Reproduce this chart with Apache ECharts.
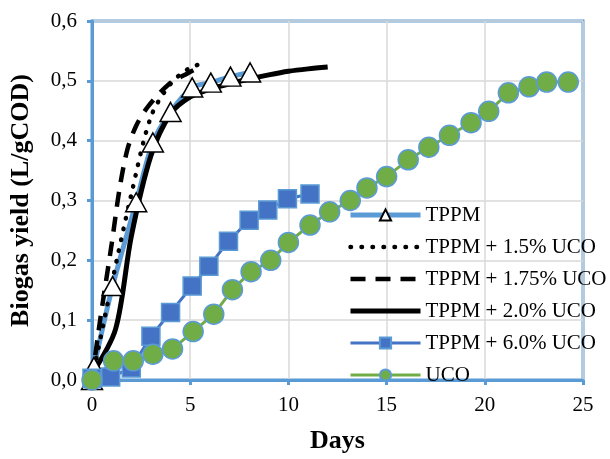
<!DOCTYPE html>
<html>
<head>
<meta charset="utf-8">
<script src="https://cdn.jsdelivr.net/npm/echarts@6/dist/echarts.min.js"></script>
<style>
  html, body { margin: 0; padding: 0; background: #fff; }
  #chart { width: 610px; height: 459px; }
</style>
</head>
<body>
<div id="chart"></div>
<script>
// series names (legend order)
const seriesNames = ['TPPM', 'TPPM + 1.5% UCO', 'TPPM + 1.75% UCO', 'TPPM + 2.0% UCO', 'TPPM + 6.0% UCO', 'UCO']

// TPPM
const tppmDays = [0, 0.1, 1.05, 2.25, 3.1, 4.0, 5.1, 6.05, 7.05, 8.05]
const tppmYield = [0, 0.022, 0.157, 0.297, 0.397, 0.448, 0.489, 0.497, 0.507, 0.514]

// TPPM + 1.5% UCO (dotted)
const uco15Days = [0, 1, 2, 3, 4, 5, 5.8]
const uco15Yield = [0, 0.16, 0.31, 0.44, 0.495, 0.522, 0.53]

// TPPM + 1.75% UCO (dashed)
const uco175Days = [0, 0.4, 1, 1.4, 1.8, 2.25, 2.85, 3.9, 4.9, 5.55]
const uco175Yield = [0, 0.097, 0.227, 0.319, 0.385, 0.425, 0.457, 0.494, 0.513, 0.524]

// TPPM + 2.0% UCO (solid black)
const uco20Days = [0, 1.2, 2, 3, 4, 5, 6, 7, 8, 9, 10, 11, 12]
const uco20Yield = [0.01, 0.085, 0.24, 0.375, 0.445, 0.473, 0.486, 0.495, 0.503, 0.51, 0.516, 0.52, 0.523]

// TPPM + 6.0% UCO (squares)
const uco60Days = [0, 0.95, 2.0, 3.0, 4.0, 5.1, 5.95, 6.95, 8.0, 8.95, 9.95, 11.1]
const uco60Yield = [0.003, 0.005, 0.02, 0.073, 0.113, 0.157, 0.19, 0.232, 0.267, 0.284, 0.303, 0.311]

// UCO (circles)
const ucoDays = [0, 1.1, 2.1, 3.1, 4.1, 5.15, 6.2, 7.15, 8.1, 9.1, 10.0, 11.1, 12.1, 13.15,
  14.0, 15.0, 16.1, 17.15, 18.2, 19.3, 20.2, 21.2, 22.25, 23.15, 24.25]
const ucoYield = [0, 0.032, 0.032, 0.043, 0.052, 0.081, 0.11, 0.151, 0.181, 0.2, 0.23, 0.259, 0.281, 0.3,
  0.321, 0.34, 0.368, 0.389, 0.409, 0.43, 0.449, 0.48, 0.49, 0.498, 0.498]

function zip(xs, ys) {
  return xs.map((x, i) => [x, ys[i]])
}

const serif = 'Liberation Serif, Times New Roman, serif'
const frameBlue = '#5B9BD5'

// line looks, shared by series and legend
const tppmLine = { color: '#5B9BD5', width: 5 }
const dottedLine = { color: '#000', width: 4.5, type: [0.5, 10.5], cap: 'round' }
const dashedLine = { color: '#000', width: 4.5, type: [15, 10] }
const solidLine = { color: '#000', width: 5 }
const squareLine = { color: '#4472C4', width: 3 }
const circleLine = { color: '#70AD47', width: 3 }

const chart = echarts.init(document.getElementById('chart'), null, { renderer: 'canvas' })
chart.setOption({
  backgroundColor: '#ffffff',
  animation: false,
  grid: {
    left: 91,
    right: 27,
    top: 21,
    bottom: 70,
    show: true,
    borderColor: frameBlue,
    borderWidth: 3
  },
  legend: {
    orient: 'vertical',
    left: 348,
    top: 204,
    itemWidth: 70,
    itemHeight: 14,
    itemGap: 10,
    padding: 0,
    textStyle: {
      fontFamily: serif,
      fontSize: 21,
      color: '#000',
      lineHeight: 22
    },
    data: [
      { name: seriesNames[0], lineStyle: tppmLine },
      { name: seriesNames[1], lineStyle: dottedLine, itemStyle: { opacity: 0 } },
      { name: seriesNames[2], lineStyle: dashedLine, itemStyle: { opacity: 0 } },
      { name: seriesNames[3], lineStyle: solidLine, itemStyle: { opacity: 0 } },
      { name: seriesNames[4], lineStyle: squareLine },
      { name: seriesNames[5], lineStyle: circleLine }
    ]
  },
  xAxis: {
    type: 'value',
    name: 'Days',
    nameLocation: 'middle',
    nameGap: 48,
    nameTextStyle: { fontFamily: serif, fontSize: 26, fontWeight: 'bold', color: '#000' },
    min: 0,
    max: 25,
    interval: 5,
    axisLine: { show: true, lineStyle: { color: frameBlue, width: 3 } },
    axisTick: { show: true, inside: false, length: 5, lineStyle: { color: frameBlue, width: 3 } },
    axisLabel: { fontFamily: serif, fontSize: 21, color: '#000', margin: 15 },
    splitLine: { show: true, lineStyle: { color: '#d9d9d9', width: 1.5 } }
  },
  yAxis: {
    type: 'value',
    name: 'Biogas yield (L/gCOD)',
    nameLocation: 'middle',
    nameGap: 58,
    nameTextStyle: { fontFamily: serif, fontSize: 26, fontWeight: 'bold', color: '#000' },
    min: 0,
    max: 0.6,
    interval: 0.1,
    axisLine: { show: true, lineStyle: { color: frameBlue, width: 3 } },
    axisTick: { show: true, inside: false, length: 5, lineStyle: { color: frameBlue, width: 3 } },
    axisLabel: {
      fontFamily: serif,
      fontSize: 21,
      color: '#000',
      margin: 15,
      formatter: v => v.toFixed(1).replace('.', ',')
    },
    splitLine: { show: true, lineStyle: { color: '#d9d9d9', width: 1.5 } }
  },
  series: [
    {
      name: seriesNames[0],
      type: 'line',
      smooth: 0.3,
      symbol: 'triangle',
      symbolSize: [21, 19],
      lineStyle: tppmLine,
      itemStyle: { color: '#ffffff', borderColor: '#000', borderWidth: 1.5 },
      data: zip(tppmDays, tppmYield)
    },
    {
      name: seriesNames[1],
      type: 'line',
      smooth: 0.3,
      symbol: 'none',
      lineStyle: dottedLine,
      itemStyle: { color: '#000' },
      data: zip(uco15Days, uco15Yield)
    },
    {
      name: seriesNames[2],
      type: 'line',
      smooth: 0.3,
      symbol: 'none',
      lineStyle: dashedLine,
      itemStyle: { color: '#000' },
      data: zip(uco175Days, uco175Yield)
    },
    {
      name: seriesNames[3],
      type: 'line',
      smooth: 0.3,
      symbol: 'none',
      lineStyle: solidLine,
      itemStyle: { color: '#000' },
      data: zip(uco20Days, uco20Yield)
    },
    {
      name: seriesNames[4],
      type: 'line',
      symbol: 'rect',
      symbolSize: 18,
      lineStyle: squareLine,
      itemStyle: { color: '#4472C4', borderColor: frameBlue, borderWidth: 1.5 },
      data: zip(uco60Days, uco60Yield)
    },
    {
      name: seriesNames[5],
      type: 'line',
      symbol: 'circle',
      symbolSize: 20,
      lineStyle: circleLine,
      itemStyle: { color: '#70AD47', borderColor: frameBlue, borderWidth: 1.5 },
      data: zip(ucoDays, ucoYield)
    }
  ]
})
</script>
</body>
</html>
